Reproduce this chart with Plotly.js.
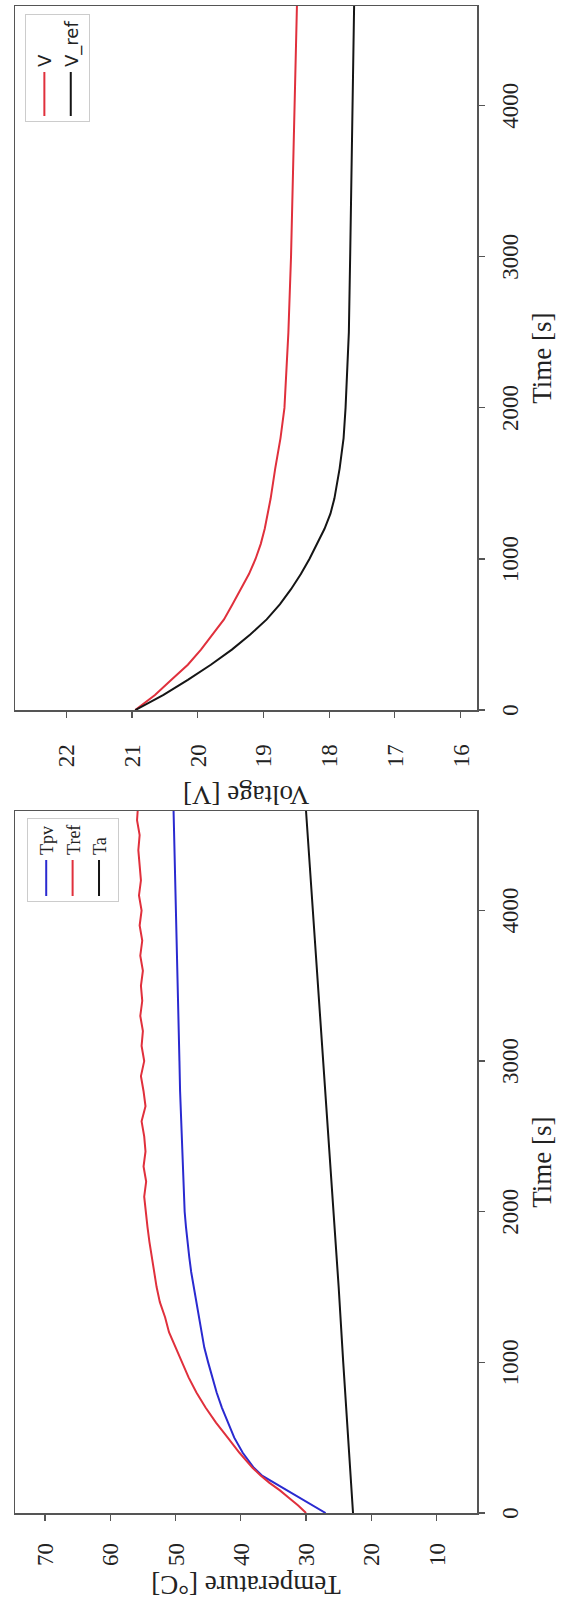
<!DOCTYPE html>
<html>
<head>
<meta charset="utf-8">
<script src="https://cdn.plot.ly/plotly-3.0.1.min.js"></script>
<style>
html, body { margin: 0; padding: 0; width: 564px; height: 1600px; overflow: hidden; background: #fff; }
#plot { position: absolute; left: 0; top: 0; width: 1600px; height: 564px;
        transform-origin: 0 0; transform: translateY(1600px) rotate(-90deg); }
</style>
</head>
<body>
<div id="plot"></div>
<script>
// ---- Temperature panel data ----
const timeTpv = [0,50,100,150,200,250,300,400,500,600,700,800,900,1000,1100,1200,1300,1400,1500,1600,1700,1800,1900,2000,2200,2400,2600,2800,3000,3200,3400,3600,3800,4000,4200,4400,4660];
const tpv     = [27.0,29.0,31.0,33.0,35.0,36.8,38.0,39.7,41.0,42.0,42.9,43.7,44.4,45.0,45.6,46.0,46.5,46.9,47.3,47.6,47.9,48.2,48.4,48.6,48.8,49.0,49.1,49.3,49.4,49.5,49.7,49.8,49.9,50.0,50.1,50.2,50.3];

const timeTref = [0,50,100,150,200,250,300,400,500,600,700,800,900,1000,1100,1200,1300,1400,1500,1600,1700,1800,1900,2000,2100,2200,2300,2400,2500,2600,2700,2800,2900,3000,3100,3200,3300,3400,3500,3600,3700,3800,3900,4000,4100,4200,4300,4400,4500,4600,4660];
const tref     = [30.0,31.2,32.6,34.0,35.6,37.0,38.2,40.2,42.0,43.8,45.4,46.8,48.0,49.0,50.0,51.0,51.6,52.4,52.9,53.3,53.6,54.0,54.3,54.5,54.8,54.5,54.9,54.6,54.8,55.2,54.6,54.9,55.3,54.8,55.2,55.0,55.4,55.1,55.3,55.0,55.4,55.1,55.5,55.2,55.6,55.3,55.5,55.7,55.5,55.9,55.8];

const timeTa = [0,500,1000,1500,2000,2500,3000,3500,4000,4660];
const ta     = [22.8,23.6,24.3,25.0,25.8,26.6,27.4,28.2,29.0,30.0];

// ---- Voltage panel data ----
const timeV = [0,100,200,300,400,500,600,700,800,900,1000,1100,1200,1300,1400,1600,1800,2000,2500,3000,3500,4000,4660];
const v     = [20.95,20.65,20.40,20.15,19.95,19.77,19.60,19.47,19.35,19.22,19.12,19.04,18.98,18.93,18.89,18.82,18.74,18.68,18.62,18.58,18.55,18.52,18.49];
const vRef  = [20.95,20.52,20.15,19.80,19.48,19.20,18.95,18.75,18.58,18.43,18.30,18.18,18.07,17.98,17.92,17.84,17.78,17.75,17.70,17.68,17.66,17.64,17.62];

// ---- Tick labels ----
const timeTicks = [0,1000,2000,3000,4000];
const tempTicks = [10,20,30,40,50,60,70];
const voltTicks = [16,17,18,19,20,21,22];

const serif = 'Liberation Serif, Times New Roman, serif';
const axisLine = '#555555';

const traces = [
  {x: timeTpv, y: tpv, name: 'Tpv', type: 'scatter', mode: 'lines', line: {color: '#2a2ad0', width: 2}, xaxis: 'x', yaxis: 'y', legend: 'legend'},
  {x: timeTref, y: tref, name: 'Tref', type: 'scatter', mode: 'lines', line: {color: '#e0303c', width: 2}, xaxis: 'x', yaxis: 'y', legend: 'legend'},
  {x: timeTa, y: ta, name: 'Ta', type: 'scatter', mode: 'lines', line: {color: '#151515', width: 2}, xaxis: 'x', yaxis: 'y', legend: 'legend'},
  {x: timeV, y: v, name: 'V', type: 'scatter', mode: 'lines', line: {color: '#e0303c', width: 2}, xaxis: 'x2', yaxis: 'y2', legend: 'legend2'},
  {x: timeV, y: vRef, name: 'V_ref', type: 'scatter', mode: 'lines', line: {color: '#151515', width: 2}, xaxis: 'x2', yaxis: 'y2', legend: 'legend2'}
];

const common = {
  showline: true, mirror: true, linecolor: axisLine, linewidth: 1.5,
  ticks: 'outside', ticklen: 6, tickcolor: axisLine, tickwidth: 1.2,
  showgrid: false, zeroline: false, automargin: false,
  tickfont: {family: serif, size: 23, color: '#222'}
};

const layout = {
  width: 1600, height: 564,
  margin: {l: 87, r: 6, t: 15, b: 87},
  paper_bgcolor: '#fff', plot_bgcolor: '#fff',
  showlegend: true,
  xaxis: Object.assign({}, common, {domain: [0, 0.4658], range: [0, 4660], tickvals: timeTicks, anchor: 'y',
    ticklabelstandoff: 6,
    title: {text: 'Time [s]', font: {family: serif, size: 27, color: '#222'}, standoff: 10}}),
  yaxis: Object.assign({}, common, {range: [3.8, 74.6], tickvals: tempTicks, anchor: 'x',
    ticklabelstandoff: 18,
    title: {text: 'Temperature [°C]', font: {family: serif, size: 27, color: '#222'}, standoff: 10}}),
  xaxis2: Object.assign({}, common, {domain: [0.5328, 1], range: [0, 4660], tickvals: timeTicks, anchor: 'y2',
    ticklabelstandoff: 6,
    title: {text: 'Time [s]', font: {family: serif, size: 27, color: '#222'}, standoff: 10}}),
  yaxis2: Object.assign({}, common, {range: [15.75, 22.78], tickvals: voltTicks, anchor: 'x2',
    ticklabelstandoff: 22,
    title: {text: 'Voltage [V]', font: {family: serif, size: 27, color: '#222'}, standoff: 10}}),
  legend: {x: 0.4612, xanchor: 'right', y: 0.974, yanchor: 'top', bgcolor: '#fff', bordercolor: '#cccccc', borderwidth: 1,
    font: {family: serif, size: 18, color: '#222'}, tracegroupgap: 0, itemwidth: 36},
  legend2: {x: 0.9947, xanchor: 'right', y: 0.978, yanchor: 'top', bgcolor: '#fff', bordercolor: '#cccccc', borderwidth: 1,
    font: {family: 'DejaVu Sans, sans-serif', size: 18, color: '#222'}, tracegroupgap: 0, itemwidth: 44}
};

Plotly.newPlot('plot', traces, layout, {displayModeBar: false, staticPlot: true});
</script>
</body>
</html>
